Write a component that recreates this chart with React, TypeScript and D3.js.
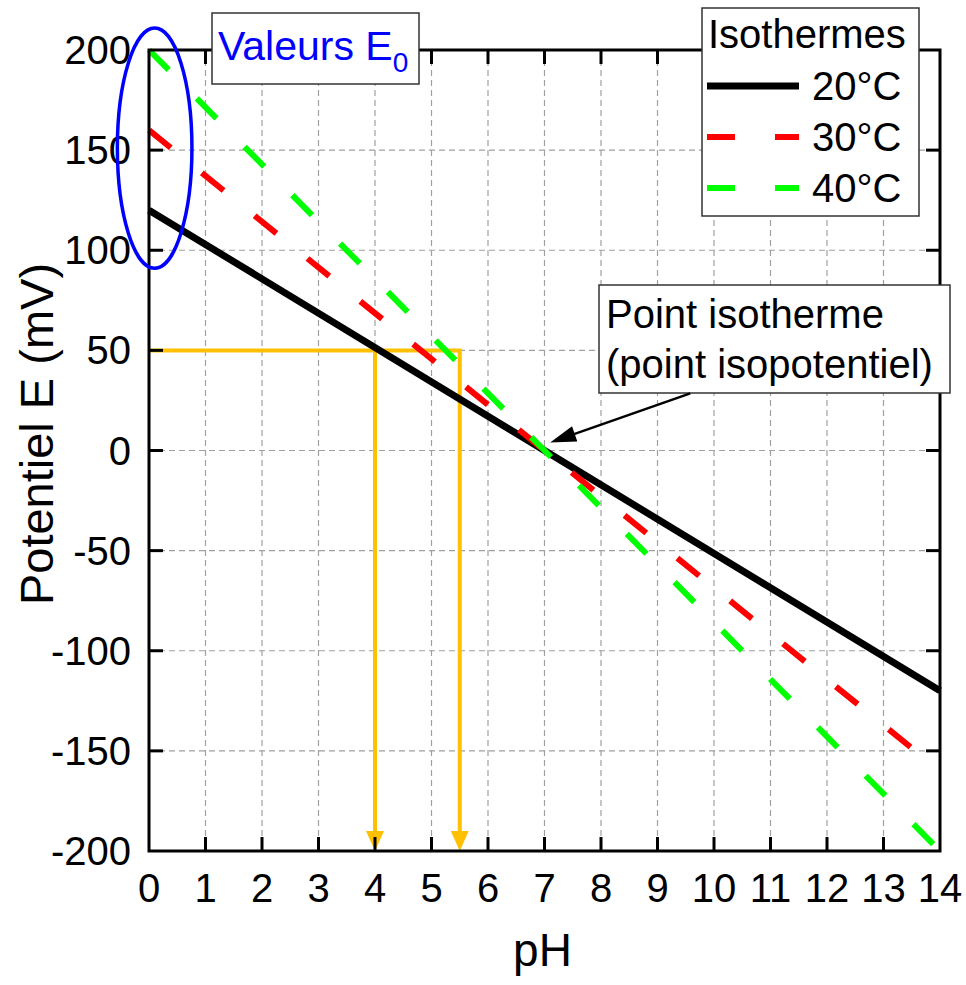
import React from 'react';
import * as d3 from 'd3';

// values
const phTicks = [0, 1, 2, 3, 4, 5, 6, 7, 8, 9, 10, 11, 12, 13, 14];
const eTicks = [-200, -150, -100, -50, 0, 50, 100, 150, 200];
const phEnds = [0, 14];
const isotherms = ['20°C', '30°C', '40°C'];
const e20 = [120, -120];
const e30 = [160, -160];
const e40 = [200, -200];
const readE = 50;
const readPH = [4, 5.5];

const colors = ['#000000', '#ff0000', '#00ff00'];
const font = 'Liberation Sans, Arial, sans-serif';

function arrowHead(x1: number, y1: number, x2: number, y2: number, len: number, half: number) {
    const a = Math.atan2(y2 - y1, x2 - x1);
    const bx = x2 - len * Math.cos(a);
    const by = y2 - len * Math.sin(a);
    const px = -Math.sin(a) * half;
    const py = Math.cos(a) * half;
    return `${x2},${y2} ${bx + px},${by + py} ${bx - px},${by - py}`;
}

export default function App() {
    const W = 966, H = 985;
    const margin = { left: 149, right: 26, top: 50, bottom: 134 };
    const x = d3.scaleLinear().domain([0, 14]).range([margin.left, W - margin.right]);
    const y = d3.scaleLinear().domain([-200, 200]).range([H - margin.bottom, margin.top]);

    const line = d3.line<[number, number]>()
        .x(d => x(d[0]))
        .y(d => y(d[1]));

    const series = [e20, e30, e40].map(vals => phEnds.map((p, i) => [p, vals[i]] as [number, number]));

    const x0 = x(0), x1 = x(14), y0 = y(-200), y1 = y(200);
    const tick = 14;

    // annotation arrow (isothermal point)
    const ax1 = x(9.58), ay1 = y(28.5), ax2 = x(7.1), ay2 = y(4);

    return (
        <svg width={W} height={H} style={{ position: 'absolute', left: 0, top: 0, background: '#fff' }}
            fontFamily={font}>
            {/* grid */}
            <g stroke="#a0a0a0" strokeWidth={1.2} strokeDasharray="6,4">
                {phTicks.slice(1, -1).map(t => (
                    <line key={'gx' + t} x1={x(t)} x2={x(t)} y1={y1} y2={y0} />
                ))}
                {eTicks.slice(1, -1).map(t => (
                    <line key={'gy' + t} x1={x0} x2={x1} y1={y(t)} y2={y(t)} />
                ))}
            </g>

            {/* reading lines */}
            <g stroke="#ffc000" strokeWidth={4} fill="none">
                <polyline points={`${x0},${y(readE)} ${x(readPH[1])},${y(readE)} ${x(readPH[1])},${y0 - 18}`} />
                <line x1={x(readPH[0])} x2={x(readPH[0])} y1={y(readE)} y2={y0 - 18} />
            </g>
            <g fill="#ffc000">
                {readPH.map(p => (
                    <polygon key={p} points={arrowHead(x(p), y(readE), x(p), y0, 20, 9)} />
                ))}
            </g>

            {/* isotherm lines */}
            {series.map((s, i) => (
                <path key={i} d={line(s) || ''} fill="none" stroke={colors[i]}
                    strokeWidth={i === 0 ? 7 : 6}
                    strokeDasharray={i === 0 ? undefined : '28,40'} />
            ))}

            {/* frame and ticks */}
            <rect x={x0} y={y1} width={x1 - x0} height={y0 - y1} fill="none" stroke="#000" strokeWidth={3} />
            <g stroke="#000" strokeWidth={3}>
                {phTicks.slice(1, -1).map(t => (
                    <g key={'tx' + t}>
                        <line x1={x(t)} x2={x(t)} y1={y0} y2={y0 - tick} />
                        <line x1={x(t)} x2={x(t)} y1={y1} y2={y1 + tick} />
                    </g>
                ))}
                {eTicks.slice(1, -1).map(t => (
                    <g key={'ty' + t}>
                        <line x1={x0} x2={x0 + tick} y1={y(t)} y2={y(t)} />
                        <line x1={x1} x2={x1 - tick} y1={y(t)} y2={y(t)} />
                    </g>
                ))}
            </g>

            {/* tick labels */}
            <g fontSize={40} fill="#000">
                {phTicks.map(t => (
                    <text key={'lx' + t} x={x(t)} y={y0 + 51} textAnchor="middle">{t}</text>
                ))}
                {eTicks.map(t => (
                    <text key={'ly' + t} x={x0 - 18} y={y(t) + 14} textAnchor="end">{t}</text>
                ))}
            </g>

            {/* axis titles */}
            <text x={(x0 + x1) / 2 - 2} y={966} fontSize={46} textAnchor="middle">pH</text>
            <text transform={`translate(53,434) rotate(-90)`} fontSize={47} textAnchor="middle">Potentiel E (mV)</text>

            {/* E0 ellipse */}
            <ellipse cx={x(0.1)} cy={y(151)} rx={x(0.66) - x(0)} ry={y(0) - y(60)}
                fill="none" stroke="#0000ff" strokeWidth={3.5} />
            <rect x={212} y={13} width={207} height={71} fill="#fff" stroke="#333" strokeWidth={1.5} />
            <text x={218} y={60} fontSize={41} fill="#0000ff">
                Valeurs E<tspan fontSize={28} dy={12}>0</tspan>
            </text>

            {/* isothermal point annotation */}
            <rect x={599} y={285} width={351} height={108} fill="#fff" stroke="#333" strokeWidth={1.5} />
            <text x={606} y={328} fontSize={40}>Point isotherme</text>
            <text x={606} y={378} fontSize={40}>(point isopotentiel)</text>
            <line x1={ax1} y1={ay1} x2={ax1 + (ax2 - ax1) * 0.85} y2={ay1 + (ay2 - ay1) * 0.85}
                stroke="#000" strokeWidth={2.5} />
            <polygon points={arrowHead(ax1, ay1, ax2, ay2, 26, 8)} fill="#000" />

            {/* legend */}
            <rect x={702} y={8} width={217} height={208} fill="#fff" stroke="#333" strokeWidth={1.5} />
            <text x={708} y={48} fontSize={40}>Isothermes</text>
            {isotherms.map((name, i) => {
                const ly = 86 + i * 51;
                return (
                    <g key={name}>
                        <line x1={707} x2={799} y1={ly} y2={ly} stroke={colors[i]}
                            strokeWidth={i === 0 ? 7 : 6}
                            strokeDasharray={i === 0 ? undefined : '28,40'} />
                        <text x={812} y={ly + 14} fontSize={40}>{name}</text>
                    </g>
                );
            })}
        </svg>
    );
}
